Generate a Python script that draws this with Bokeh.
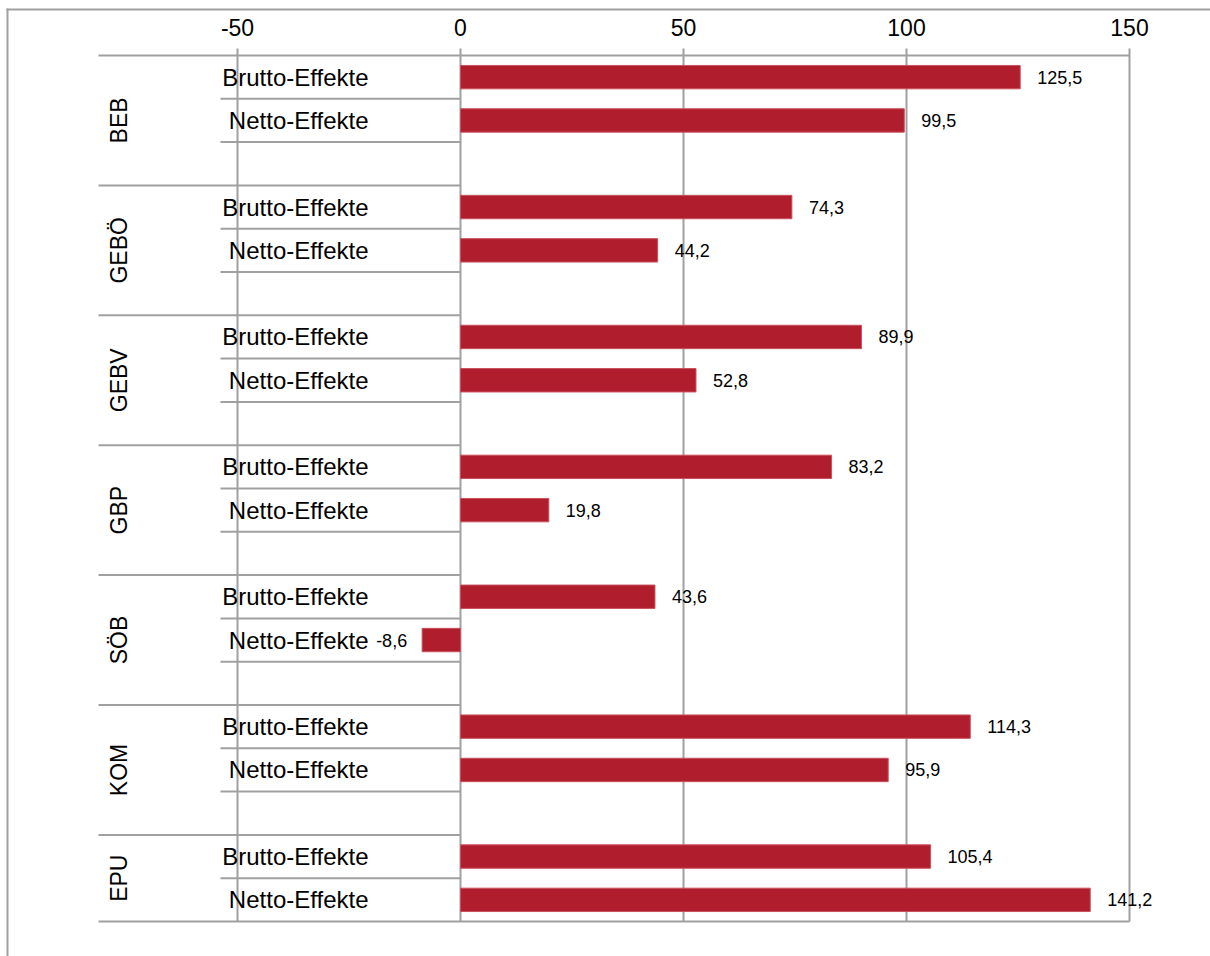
import math

from bokeh.core.properties import value
from bokeh.embed import file_html
from bokeh.models import ColumnDataSource, Range1d
from bokeh.plotting import figure
from bokeh.resources import INLINE

# Programme groups and their effects (in %)
groups = ["BEB", "GEBÖ", "GEBV", "GBP", "SÖB", "KOM", "EPU"]
effect_labels = ["Brutto-Effekte", "Netto-Effekte"]
brutto = [125.5, 74.3, 89.9, 83.2, 43.6, 114.3, 105.4]
netto = [99.5, 44.2, 52.8, 19.8, -8.6, 95.9, 141.2]
x_ticks = [-50, 0, 50, 100, 150]

FONT = "Liberation Sans"
GRID = "#a0a0a0"
BAR = "#b01e2e"

W, H = 1210, 956
# pixel geometry of the plot area
ZERO_PX, MAX_PX, X_MAX = 460.0, 1129.0, 150.0
AREA_LEFT_PX, AREA_TOP_PX, AREA_BOTTOM_PX = 98.0, 55.0, 921.0

# every group occupies three rows (Brutto, Netto, spacer); the last has no spacer
n_rows = 3 * len(groups) - 1

sx = (MAX_PX - ZERO_PX) / X_MAX
sy = (AREA_BOTTOM_PX - AREA_TOP_PX) / n_rows


def px_x(px):
    return (px - ZERO_PX) / sx


def px_y(py):
    return (py - AREA_TOP_PX) / sy


x_min = px_x(AREA_LEFT_PX)

rows_y, rows_v, rows_lab = [], [], []
for g in range(len(groups)):
    for k, vals in enumerate((brutto, netto)):
        rows_y.append(3 * g + k + 0.5)
        rows_v.append(vals[g])
        rows_lab.append(effect_labels[k])

fmt = [f"{v:.1f}".replace(".", ",") for v in rows_v]
src = ColumnDataSource(dict(y=rows_y, v=rows_v, lab=rows_lab))
pos = ColumnDataSource(dict(
    y=[y for y, v in zip(rows_y, rows_v) if v >= 0],
    v=[v for v in rows_v if v >= 0],
    txt=[t for t, v in zip(fmt, rows_v) if v >= 0]))
neg = ColumnDataSource(dict(
    y=[y for y, v in zip(rows_y, rows_v) if v < 0],
    v=[v for v in rows_v if v < 0],
    txt=[t for t, v in zip(fmt, rows_v) if v < 0]))

p = figure(width=W, height=H,
           x_range=Range1d(px_x(0), px_x(W)),
           y_range=Range1d(px_y(H), px_y(0)),
           output_backend="svg", toolbar_location=None,
           x_axis_location=None, y_axis_location=None)
p.min_border = 0
p.outline_line_color = None
p.background_fill_color = "white"
p.border_fill_color = "white"
p.xgrid.visible = False
p.ygrid.visible = False

# chart area border (left and top edges)
p.segment(x0=[px_x(7), px_x(6)], x1=[px_x(7), px_x(W)],
          y0=[px_y(8), px_y(9)], y1=[px_y(H), px_y(9)],
          line_color=GRID, line_width=2)

# value axis: gridlines with outward tick marks, axis line, bottom edge
tick_top = px_y(AREA_TOP_PX - 7)
p.segment(x0=x_ticks, x1=x_ticks, y0=[tick_top] * len(x_ticks),
          y1=[n_rows] * len(x_ticks), line_color=GRID, line_width=2)
p.segment(x0=[x_min, x_min], x1=[X_MAX, X_MAX], y0=[0, n_rows],
          y1=[0, n_rows], line_color=GRID, line_width=2)
p.text(x=x_ticks, y=[px_y(27)] * len(x_ticks),
       text=[f"{t:d}" for t in x_ticks], text_align="center",
       text_baseline="middle", text_font=value(FONT),
       text_font_size="23px", text_color="black")

# category axis dividers: full width between groups, inner ones between rows
inner_x0 = px_x(220)
grp_y = [3 * g for g in range(1, len(groups))]
inner_y = [y for y in range(1, n_rows) if y % 3 != 0]
p.segment(x0=[x_min] * len(grp_y), x1=[0] * len(grp_y), y0=grp_y, y1=grp_y,
          line_color=GRID, line_width=2)
p.segment(x0=[inner_x0] * len(inner_y), x1=[0] * len(inner_y), y0=inner_y,
          y1=inner_y, line_color=GRID, line_width=2)

# bars
p.hbar(y="y", left=0, right="v", height=0.54, source=src,
       fill_color=BAR, line_color="#c9515d", line_width=1)

# row labels next to the category axis
p.text(x=0, y="y", text="lab", source=src, x_offset=-92,
       text_align="right", text_baseline="middle",
       text_font=value(FONT), text_font_size="24px", text_color="black")

# group labels, rotated
grp_center = [3 * g + 1.5 for g in range(len(groups))]
grp_center[-1] = (3 * (len(groups) - 1) + n_rows) / 2
p.text(x=[px_x(118)] * len(groups), y=grp_center, text=groups,
       angle=math.pi / 2, text_align="center", text_baseline="middle",
       text_font=value(FONT), text_font_size="23px", text_color="black")

# value labels
p.text(x="v", y="y", text="txt", source=pos, x_offset=17,
       text_align="left", text_baseline="middle",
       text_font=value(FONT), text_font_size="18px", text_color="black")
p.text(x="v", y="y", text="txt", source=neg, x_offset=-15,
       text_align="right", text_baseline="middle",
       text_font=value(FONT), text_font_size="18px", text_color="black")

open("out.html", "w").write(file_html(p, INLINE))
